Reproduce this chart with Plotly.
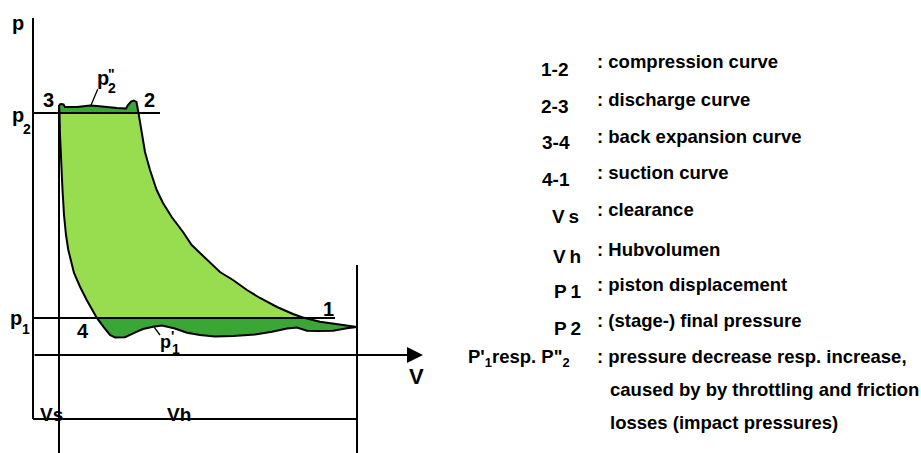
import plotly.graph_objects as go

# ---------------- data (V in arbitrary volume units, p in arbitrary pressure units) -------------
V_S = 2.6          # clearance volume
V_H = 29.8         # swept volume (Hubvolumen)
V_1 = V_S + V_H    # volume at point 1
P_1 = 3.7          # suction pressure
P_2 = 24.2         # final pressure

# 3 -> 2 : discharge (wavy top, impact pressure p''2)
discharge_V = [2.6, 2.8, 3.05, 3.2, 4.4, 5.2, 5.7, 6.4, 7.2, 8.4, 9.3, 9.5, 9.8, 10.1, 10.35, 10.5, 10.55]
discharge_p = [25.0, 25.1, 25.05, 24.8, 24.8, 24.85, 24.95, 24.9, 24.8, 24.7, 24.65, 25.0, 25.35, 25.45, 25.3, 24.7, 24.2]

# 2 -> 1 : compression
compression_V = [10.7, 10.87, 11.2, 11.7, 12.37, 13.0, 13.87, 15.0, 15.87, 16.7, 17.7, 18.7, 20.0, 21.4,
                 22.7, 24.4, 26.0, 26.9, 28.7, 30.4, 32.0, 32.4]
compression_p = [23.3, 22.2, 20.3, 18.5, 16.5, 15.2, 13.8, 12.3, 11.0, 10.2, 9.2, 8.3, 7.5, 6.5,
                 5.7, 4.8, 4.1, 3.77, 3.33, 3.07, 2.83, 2.8]

# 1 -> 4 : suction (wavy bottom, pressure drop p'1)
suction_V = [31.4, 30.0, 28.5, 27.4, 26.4, 25.4, 23.9, 22.2, 20.0, 18.2, 16.7, 15.4, 14.2, 12.9, 12.0,
             11.0, 10.4, 9.7, 9.2, 8.2, 7.7]
suction_p = [2.67, 2.43, 2.4, 2.43, 2.75, 2.65, 2.33, 2.05, 1.9, 1.85, 2.0, 2.23, 2.65, 2.95, 2.83,
             2.6, 2.33, 2.0, 1.78, 1.75, 2.0]

# 4 -> 3 : back expansion
expansion_V = [7.03, 6.37, 5.37, 4.7, 4.1, 3.87, 3.53, 3.3, 3.1, 2.95, 2.8, 2.7, 2.65, 2.6]
expansion_p = [2.83, 3.73, 5.5, 6.83, 8.2, 9.2, 10.5, 12.0, 14.0, 16.5, 19.5, 22.0, 24.2, 25.0]

# construction lines extents
P_AXIS_TOP = 33.7
V_AXIS_END = 39.0
DIM_P = -6.4
P1_LINE_END = 30.2
P2_LINE_END = 12.7
V1_LINE_TOP = 9.0
BOTTOM = -10.5

# legend texts
legend_keys = ["1-2", "2-3", "3-4", "4-1", "V\u2009s", "V\u2009h", "P\u20091", "P\u20092",
               "P'<sub>1</sub>resp. P\"<sub>2</sub>"]
legend_desc = [": compression curve", ": discharge curve", ": back expansion curve", ": suction curve",
               ": clearance", ": Hubvolumen", ": piston displacement", ": (stage-) final pressure",
               ": pressure decrease resp. increase,"]
legend_more = ["caused by by throttling and friction", "losses (impact pressures)"]

# ---------------- figure -------------
W, H = 921, 453
LIGHT = "rgb(152,220,80)"
DARK = "rgb(58,166,54)"
FONT = "Liberation Sans, Arial, sans-serif"

cycle_V = discharge_V + compression_V + suction_V + expansion_V
cycle_p = discharge_p + compression_p + suction_p + expansion_p


def clip(poly, keep, cross):
    out = []
    n = len(poly)
    for i in range(n):
        a, b = poly[i - 1], poly[i]
        ka, kb = keep(a), keep(b)
        if kb:
            if not ka:
                out.append(cross(a, b))
            out.append(b)
        elif ka:
            out.append(cross(a, b))
    return out


def cross_at(level):
    def f(a, b):
        t = (level - a[1]) / (b[1] - a[1])
        return (a[0] + t * (b[0] - a[0]), level)
    return f


poly = list(zip(cycle_V[:-1], cycle_p[:-1]))
poly = clip(poly, lambda q: q[1] >= P_1, cross_at(P_1))
poly = clip(poly, lambda q: q[1] <= P_2, cross_at(P_2))
light_V = [q[0] for q in poly] + [poly[0][0]]
light_p = [q[1] for q in poly] + [poly[0][1]]

fig = go.Figure()
fig.add_trace(go.Scatter(x=cycle_V, y=cycle_p, mode="lines", fill="toself", fillcolor=DARK,
                         line=dict(width=0, color=DARK), hoverinfo="skip"))
fig.add_trace(go.Scatter(x=light_V, y=light_p, mode="lines", fill="toself", fillcolor=LIGHT,
                         line=dict(width=0, color=LIGHT), hoverinfo="skip"))
fig.add_trace(go.Scatter(x=cycle_V, y=cycle_p, mode="lines", line=dict(width=2, color="black"),
                         hoverinfo="skip"))

shapes = []


def seg(x0, y0, x1, y1, w=2):
    shapes.append(dict(type="line", xref="x", yref="y", x0=x0, y0=y0, x1=x1, y1=y1,
                       line=dict(color="black", width=w), layer="above"))


seg(0, P_AXIS_TOP, 0, DIM_P)               # p axis
seg(0, DIM_P, V_1, DIM_P)                  # Vs / Vh dimension line
seg(V_S, discharge_p[0], V_S, BOTTOM)      # clearance boundary
seg(V_1, V1_LINE_TOP, V_1, BOTTOM)         # end of stroke
seg(0, P_1, P1_LINE_END, P_1)              # p1
seg(0, P_2, P2_LINE_END, P_2)              # p2
seg(6.47, 26.57, 5.77, 24.9, 1.3)          # leader p''2
seg(12.13, 2.77, 12.7, 2.0, 1.3)           # leader p'1

annotations = [dict(x=V_AXIS_END, y=0, ax=0, ay=0, xref="x", yref="y", axref="x", ayref="y",
                    showarrow=True, arrowhead=2, arrowsize=1.6, arrowwidth=2, arrowcolor="black",
                    text="", standoff=0, startstandoff=0)]


def label(px, base, text, size, xanchor="left"):
    annotations.append(dict(x=px / W, y=1 - (base - 0.905 * size) / H, xref="paper", yref="paper",
                            xanchor=xanchor, yanchor="top", text="<b>" + text + "</b>",
                            showarrow=False, borderpad=0,
                            font=dict(family=FONT, size=size, color="black")))


# diagram labels
label(11, 29, "p", 20)
label(11, 121, "p", 20)
label(22, 133, "2", 14)
label(9, 324, "p", 20)
label(21, 333, "1", 14)
label(42, 106, "3", 20)
label(143, 106, "2", 20)
label(322, 315, "1", 20)
label(76, 337, "4", 20)
label(96, 84, "p", 20)
label(107, 78, '"', 14)
label(107, 92, "2", 14)
label(159, 347, "p", 18)
label(170, 340, "'", 14)
label(171, 353, "1", 14)
label(408, 383, "V", 22)
label(39, 420, "Vs", 19)
label(166, 420, "Vh", 19)

# legend on the right
key_x = [540, 540, 541, 541, 551, 552, 553, 553, 467]
key_base = [75, 112, 148, 185, 222, 262, 297, 334, 362]
desc_base = [67, 105, 142, 178, 215, 255, 290, 326, 362]
for k, kx, kb, d, db in zip(legend_keys, key_x, key_base, legend_desc, desc_base):
    label(kx, kb, k, 19 if kx > 500 else 18.5)
    label(596, db, d, 18.5)
for t, b in zip(legend_more, [395, 428]):
    label(609, b, t, 18.5)

fig.update_layout(
    width=W, height=H, margin=dict(l=0, r=0, t=0, b=0),
    paper_bgcolor="white", plot_bgcolor="white", showlegend=False,
    xaxis=dict(range=[-3.3, 88.8], visible=False, fixedrange=True),
    yaxis=dict(range=[-9.8, 35.5], visible=False, fixedrange=True),
    shapes=shapes, annotations=annotations,
)

fig.write_html("out.html", config={"displayModeBar": False},
               post_script="document.body.style.margin='0';document.body.style.overflow='hidden';")
